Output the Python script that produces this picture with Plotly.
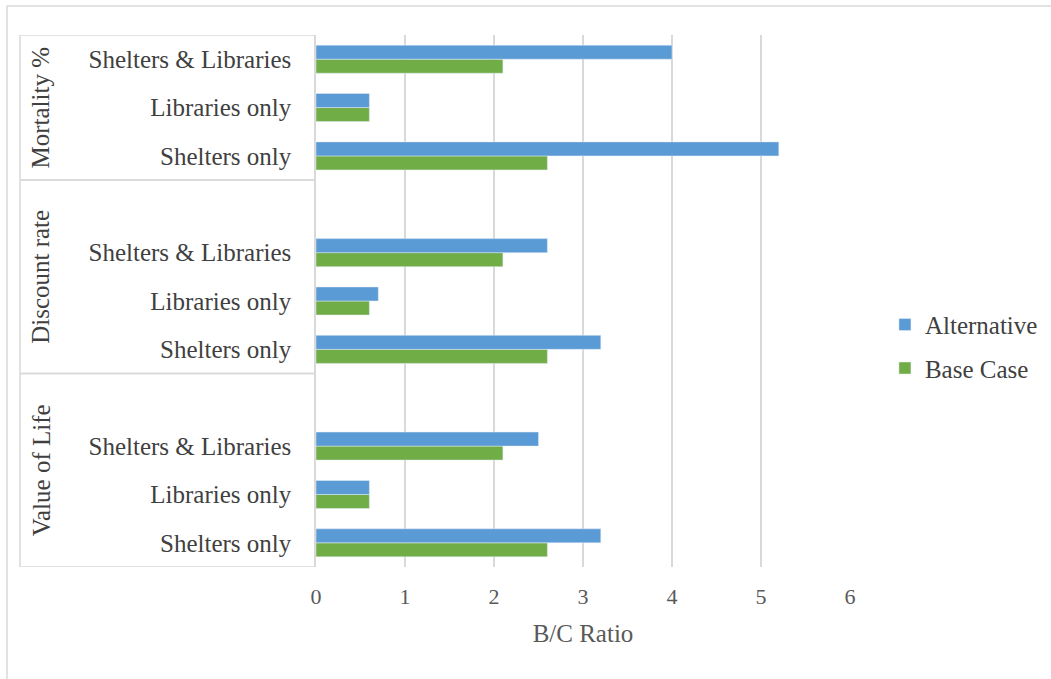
import plotly.graph_objects as go

# Sensitivity groups (top to bottom) and the scenarios inside each group
groups = ["Mortality %", "Discount rate", "Value of Life"]
scenarios = ["Shelters & Libraries", "Libraries only", "Shelters only"]

# B/C ratios per group, in scenario order
alternative = {
    "Mortality %": [4.0, 0.6, 5.2],
    "Discount rate": [2.6, 0.7, 3.2],
    "Value of Life": [2.5, 0.6, 3.2],
}
base_case = {
    "Mortality %": [2.1, 0.6, 2.6],
    "Discount rate": [2.1, 0.6, 2.6],
    "Value of Life": [2.1, 0.6, 2.6],
}
x_ticks = [0, 1, 2, 3, 4, 5, 6]

# Row layout: bottom group first, one blank row above each lower group
rows_y, rows_label, rows_alt, rows_base = [], [], [], []
group_spans = {}
row = 0
for gi, g in enumerate(reversed(groups)):
    start = row
    for s, a, b in reversed(list(zip(scenarios, alternative[g], base_case[g]))):
        rows_y.append(row)
        rows_label.append(s)
        rows_alt.append(a)
        rows_base.append(b)
        row += 1
    if gi < len(groups) - 1:
        row += 1  # blank spacer row
    group_spans[g] = (start - 0.5, row - 0.5)

y_min, y_max = -0.5, row - 0.5

FONT = "Liberation Serif"
TXT = "#404040"
TICK = "#595959"
BLUE = "#5b9bd5"
GREEN = "#70ad47"
GRID = "#d9d9d9"

fig = go.Figure()
fig.add_trace(go.Bar(
    y=rows_y, x=rows_base, orientation="h", name="Base Case",
    marker=dict(color=GREEN), legendgroup="b", legendrank=2,
))
fig.add_trace(go.Bar(
    y=rows_y, x=rows_alt, orientation="h", name="Alternative",
    marker=dict(color=BLUE), legendgroup="a", legendrank=1,
))

W, H = 1051, 679
L, R, T, B = 316, 850, 35, 567


def px_x(px):
    return (px - L) / (R - L)


def px_y(py):
    return (B - py) / (B - T)


shapes = []
line_style = dict(color=GRID, width=1.5)
# Boxes around the group labels
for g in groups:
    lo, hi = group_spans[g]
    for yv in (lo, hi):
        shapes.append(dict(type="line", xref="paper", yref="y",
                           x0=px_x(20), x1=0, y0=yv, y1=yv, line=line_style))
shapes.append(dict(type="line", xref="paper", yref="y",
                   x0=px_x(20), x1=px_x(20), y0=y_min, y1=y_max, line=line_style))
# Outer chart frame
frame = dict(color="#d9d9d9", width=1.5)
shapes.append(dict(type="line", xref="paper", yref="paper",
                   x0=px_x(7), x1=px_x(W + 5), y0=px_y(6), y1=px_y(6), line=frame))
shapes.append(dict(type="line", xref="paper", yref="paper",
                   x0=px_x(7), x1=px_x(7), y0=px_y(6), y1=px_y(H + 5), line=frame))

annotations = []
for g in groups:
    lo, hi = group_spans[g]
    annotations.append(dict(
        text=g, xref="paper", yref="y", x=px_x(41), y=(lo + hi) / 2,
        textangle=-90, showarrow=False, xanchor="center", yanchor="middle",
        font=dict(family=FONT, size=25, color=TXT),
    ))

fig.update_layout(
    width=W, height=H,
    margin=dict(l=L, r=W - R, t=T, b=H - B),
    paper_bgcolor="white", plot_bgcolor="white",
    barmode="group", bargap=0.42, bargroupgap=0.0,
    font=dict(family=FONT, color=TXT),
    showlegend=True,
    legend=dict(
        xref="container", yref="container", x=0.842, y=0.49,
        xanchor="left", yanchor="middle", traceorder="grouped",
        tracegroupgap=8,
        font=dict(family=FONT, size=25, color=TXT),
    ),
    shapes=shapes,
    annotations=annotations,
)
fig.update_xaxes(
    range=[0, 6], tickvals=x_ticks, ticktext=[str(t) for t in x_ticks],
    showgrid=True, gridcolor=GRID, gridwidth=1.5, zeroline=False,
    showline=False, ticks="", ticklabelstandoff=14,
    tickfont=dict(family=FONT, size=22, color=TICK),
    title=dict(text="B/C Ratio", font=dict(family=FONT, size=25, color=TICK),
               standoff=16),
)
fig.update_yaxes(
    range=[y_min, y_max], tickvals=rows_y, ticktext=rows_label,
    showgrid=False, zeroline=False, showline=True, linecolor=GRID, linewidth=1.5,
    ticks="", ticklabelstandoff=18,
    tickfont=dict(family=FONT, size=25, color=TXT),
)

fig.write_html("out.html")
